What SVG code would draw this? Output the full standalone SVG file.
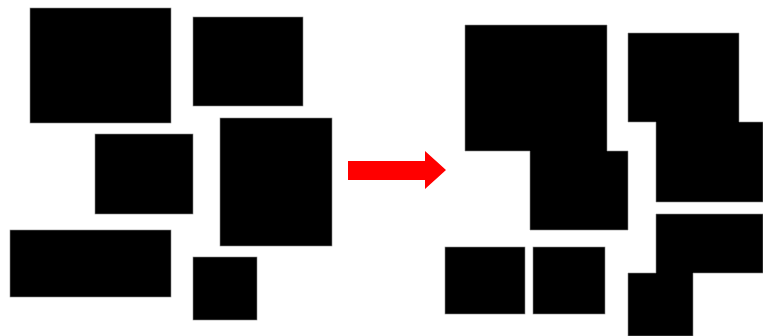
<svg xmlns="http://www.w3.org/2000/svg" width="763" height="336" viewBox="0 0 763 336">
<style>
.blk{fill:#000;stroke:#888;stroke-width:0.6}
.arrow{fill:#f00}
</style>
<rect width="763" height="336" fill="#fff"/>
<g id="before">
<g id="a"><rect class="blk" x="30" y="8" width="141" height="115"/></g>
<g id="b"><rect class="blk" x="193" y="17" width="110" height="89"/></g>
<g id="c"><rect class="blk" x="95" y="134" width="98" height="80"/></g>
<g id="d"><rect class="blk" x="220" y="118" width="112" height="128"/></g>
<g id="e"><rect class="blk" x="10" y="230" width="161" height="67"/></g>
<g id="f"><rect class="blk" x="193" y="257" width="64" height="63"/></g>
</g>
<g id="connectors">
<polygon class="arrow" points="348,161 425,161 425,151 446,170 425,189 425,180 348,180"/>
</g>
<g id="after">
<g id="g"><polygon class="blk" points="465,25 607,25 607,151 628,151 628,230 530,230 530,151 465,151"/></g>
<g id="i"><polygon class="blk" points="628,33 739,33 739,122 763,122 763,202 656,202 656,122 628,122"/></g>
<g id="k"><polygon class="blk" points="656,214 763,214 763,273 693,273 693,336 628,336 628,273 656,273"/></g>
<g id="m"><rect class="blk" x="445" y="247" width="80" height="67"/></g>
<g id="n"><rect class="blk" x="533" y="247" width="72" height="67"/></g>
</g>
</svg>
